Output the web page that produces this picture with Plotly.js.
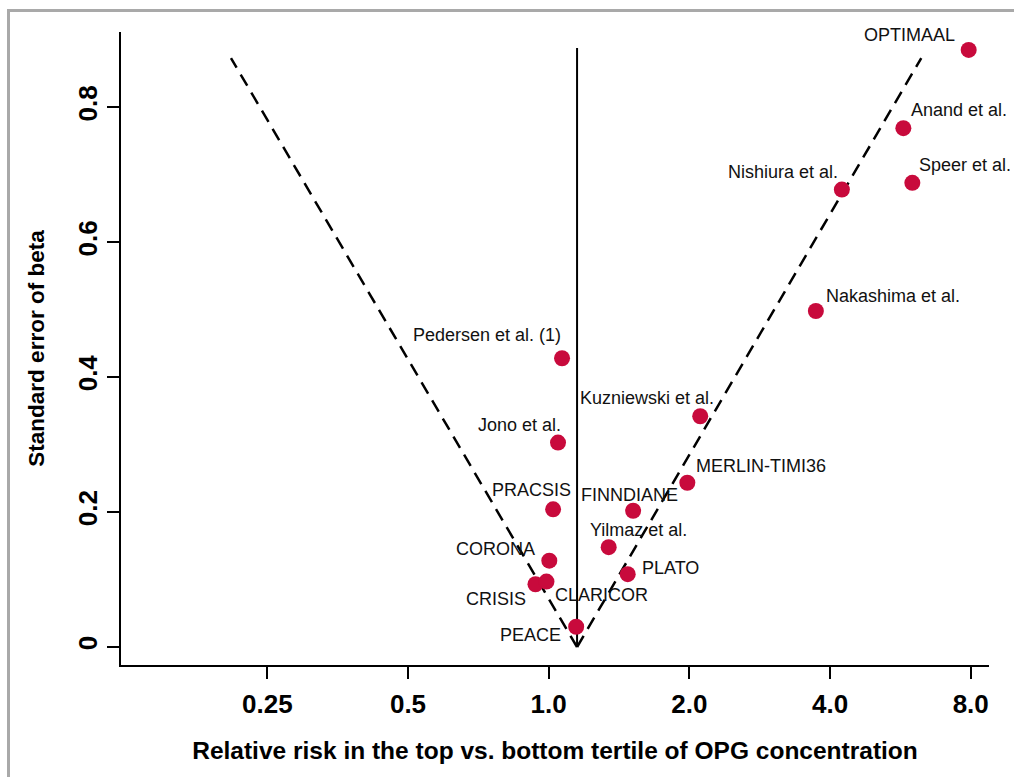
<!DOCTYPE html>
<html>
<head>
<meta charset="utf-8">
<script src="https://cdn.plot.ly/plotly-3.0.1.min.js"></script>
<style>
  html, body { margin: 0; padding: 0; background: #fff; }
  #chart { width: 1014px; height: 777px; }
</style>
</head>
<body>
<div id="chart"></div>
<script>
// ---- data ----
const studies = ['OPTIMAAL','Anand et al.','Speer et al.','Nishiura et al.','Nakashima et al.',
  'Pedersen et al. (1)','Kuzniewski et al.','Jono et al.','MERLIN-TIMI36','PRACSIS','FINNDIANE',
  'Yilmaz et al.','CORONA','PLATO','CRISIS','CLARICOR','PEACE'];
const relativeRisk = [7.92, 5.74, 6.00, 4.24, 3.73, 1.068, 2.11, 1.047, 1.98, 1.022, 1.516,
  1.344, 1.003, 1.476, 0.937, 0.989, 1.145];
const standardError = [0.885, 0.769, 0.688, 0.678, 0.498, 0.428, 0.342, 0.303, 0.2435, 0.204, 0.202,
  0.148, 0.128, 0.108, 0.093, 0.097, 0.030];

const pooledRR = [1.15, 1.15];
const pooledSE = [0, 0.888];
const funnelSE = [0, 0.873];
const funnelLeftRR = [1.15, 0.209];
const funnelRightRR = [1.15, 6.27];

const xTickVals = [0.25, 0.5, 1, 2, 4, 8];
const xTickText = ['0.25', '0.5', '1.0', '2.0', '4.0', '8.0'];
const yTickVals = [0, 0.2, 0.4, 0.6, 0.8];
const yTickText = ['0', '0.2', '0.4', '0.6', '0.8'];

// ---- label placement (style, not data) ----
const labelPlacement = {
  'OPTIMAAL':            {anchor: 'right',  dx: -12, dy: 15},
  'Anand et al.':        {anchor: 'left',   dx: 6,   dy: 18},
  'Speer et al.':        {anchor: 'left',   dx: 5,   dy: 18},
  'Nishiura et al.':     {anchor: 'right',  dx: -2,  dy: 18},
  'Nakashima et al.':    {anchor: 'left',   dx: 8,   dy: 15},
  'Pedersen et al. (1)': {anchor: 'right',  dx: 1,   dy: 23},
  'Kuzniewski et al.':   {anchor: 'right',  dx: 16,  dy: 18},
  'Jono et al.':         {anchor: 'right',  dx: 5,   dy: 18},
  'MERLIN-TIMI36':       {anchor: 'left',   dx: 7,   dy: 17},
  'PRACSIS':             {anchor: 'right',  dx: 20,  dy: 19},
  'FINNDIANE':           {anchor: 'center', dx: -4,  dy: 16},
  'Yilmaz et al.':       {anchor: 'left',   dx: -21, dy: 17},
  'CORONA':              {anchor: 'right',  dx: -12, dy: 12},
  'PLATO':               {anchor: 'left',   dx: 12,  dy: 6},
  'CRISIS':              {anchor: 'right',  dx: -7,  dy: -15},
  'CLARICOR':            {anchor: 'left',   dx: 7,   dy: -13},
  'PEACE':               {anchor: 'right',  dx: -13, dy: -8}
};

const FONT = 'Arial, "Liberation Sans", Helvetica, sans-serif';

const traces = [
  {x: funnelLeftRR, y: funnelSE, mode: 'lines', type: 'scatter', hoverinfo: 'skip',
   line: {color: '#000', width: 2.5, dash: '13px,8px'}},
  {x: funnelRightRR, y: funnelSE, mode: 'lines', type: 'scatter', hoverinfo: 'skip',
   line: {color: '#000', width: 2.5, dash: '13px,8px'}},
  {x: pooledRR, y: pooledSE, mode: 'lines', type: 'scatter', hoverinfo: 'skip',
   line: {color: '#000', width: 2}},
  {x: relativeRisk, y: standardError, text: studies, mode: 'markers', type: 'scatter',
   marker: {color: '#c80a3c', size: 16, line: {width: 0}}}
];

const annotations = studies.map((s, i) => {
  const p = labelPlacement[s];
  return {
    x: Math.log10(relativeRisk[i]), y: standardError[i], xref: 'x', yref: 'y',
    text: s, showarrow: false, xanchor: p.anchor, yanchor: 'middle',
    xshift: p.dx, yshift: p.dy,
    font: {family: FONT, size: 18, color: '#111'}
  };
});

const layout = {
  width: 1014, height: 777,
  margin: {l: 121, r: 25, t: 32, b: 112, pad: 0},
  paper_bgcolor: '#fff', plot_bgcolor: '#fff',
  showlegend: false,
  font: {family: FONT, color: '#000'},
  xaxis: {
    type: 'log', range: [-0.9152, 0.9422],
    tickvals: xTickVals, ticktext: xTickText,
    ticks: 'outside', ticklen: 12, tickwidth: 2, tickcolor: '#000',
    ticklabelstandoff: 3,
    showline: true, linewidth: 2, linecolor: '#000',
    showgrid: false, zeroline: false,
    tickfont: {family: FONT, size: 26, color: '#000', weight: 'bold'},
    title: {text: '<b>Relative risk in the top vs. bottom tertile of OPG concentration</b>',
            font: {family: FONT, size: 24.5, color: '#000'}, standoff: 24}
  },
  yaxis: {
    range: [-0.02668, 0.9116],
    tickvals: yTickVals, ticktext: yTickText, tickangle: -90,
    ticks: 'outside', ticklen: 12, tickwidth: 2, tickcolor: '#000',
    showline: true, linewidth: 2, linecolor: '#000',
    showgrid: false, zeroline: false,
    tickfont: {family: FONT, size: 26, color: '#000', weight: 'bold'},
    title: {text: '<b>Standard error of beta</b>',
            font: {family: FONT, size: 22.5, color: '#000'}, standoff: 22}
  },
  annotations: annotations,
  shapes: [
    {type: 'rect', xref: 'paper', yref: 'paper',
     x0: -0.1296, x1: 1.6, y0: -0.6, y1: 1.0340,
     line: {color: '#a9a9a9', width: 3}, fillcolor: 'rgba(0,0,0,0)', layer: 'below'}
  ]
};

Plotly.newPlot('chart', traces, layout, {displayModeBar: false, staticPlot: true});
</script>
</body>
</html>
